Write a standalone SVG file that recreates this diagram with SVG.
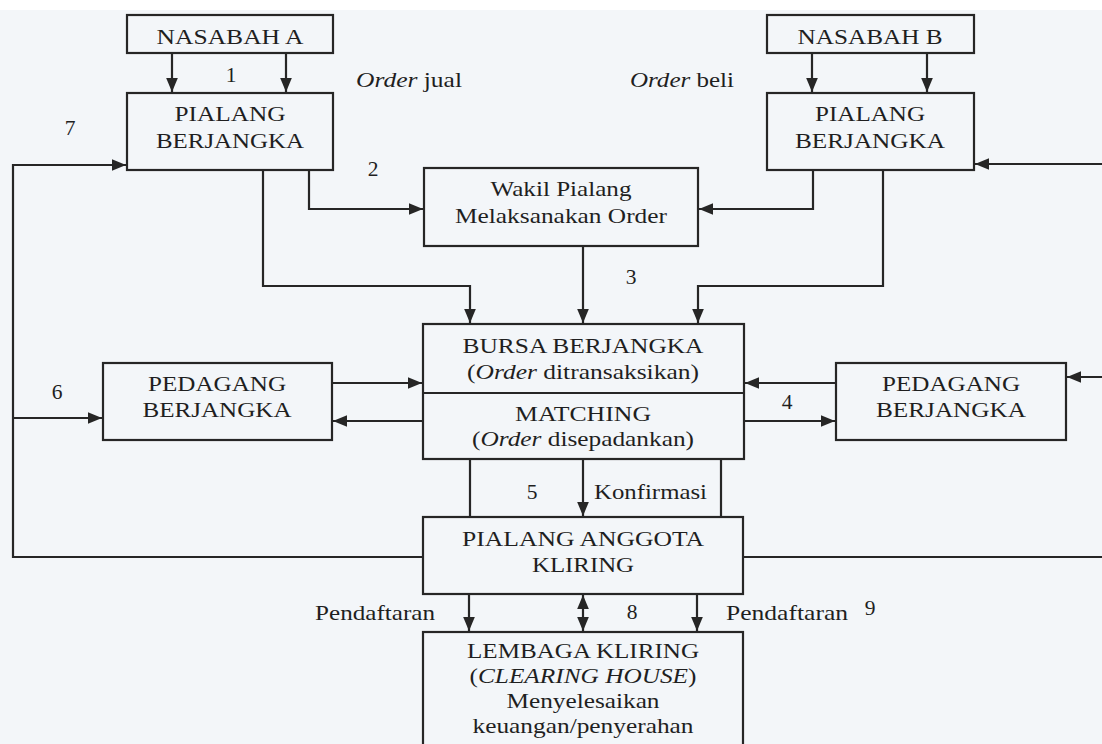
<svg xmlns="http://www.w3.org/2000/svg" width="1102" height="744" viewBox="0 0 1102 744">
<style>
.bg{fill:#f3f6f9}
.box{fill:none;stroke:#262626;stroke-width:2.2}
.t{font-family:"Liberation Serif","Times New Roman",serif;font-size:21.5px;fill:#1f1f1f}
.c{text-anchor:middle}
.i{font-style:italic}
.ln{fill:none;stroke:#262626;stroke-width:2.2}
</style>
<defs>
<marker id="ah" viewBox="0 0 12 10" markerWidth="14" markerHeight="12" refX="12" refY="5" orient="auto-start-reverse" markerUnits="userSpaceOnUse">
<path d="M0,0 L12,5 L0,10 z" fill="#262626"/>
</marker>
</defs>
<rect x="0" y="0" width="1102" height="744" fill="#ffffff"/>
<rect class="bg" x="0" y="10" width="1102" height="734"/>

<g id="connectors">
<path class="ln" d="M172,53 V92" marker-end="url(#ah)"/>
<path class="ln" d="M286,53 V92" marker-end="url(#ah)"/>
<path class="ln" d="M812,53 V92" marker-end="url(#ah)"/>
<path class="ln" d="M927,53 V92" marker-end="url(#ah)"/>
<path class="ln" d="M309,170 V209 H423" marker-end="url(#ah)"/>
<path class="ln" d="M813,170 V209 H699" marker-end="url(#ah)"/>
<path class="ln" d="M263,170 V286 H470 V323" marker-end="url(#ah)"/>
<path class="ln" d="M883,170 V286 H698 V323" marker-end="url(#ah)"/>
<path class="ln" d="M583,246 V323" marker-end="url(#ah)"/>
<path class="ln" d="M423,557 H13 V165 H126" marker-end="url(#ah)"/>
<path class="ln" d="M13,418 H102" marker-end="url(#ah)"/>
<path class="ln" d="M1102,164 H975" marker-end="url(#ah)"/>
<path class="ln" d="M1102,557 H743"/>
<path class="ln" d="M1102,377 H1067" marker-end="url(#ah)"/>
<path class="ln" d="M332,383 H422" marker-end="url(#ah)"/>
<path class="ln" d="M423,421 H333" marker-end="url(#ah)"/>
<path class="ln" d="M836,383 H745" marker-end="url(#ah)"/>
<path class="ln" d="M744,421 H835" marker-end="url(#ah)"/>
<path class="ln" d="M470,459 V517"/>
<path class="ln" d="M721,459 V517"/>
<path class="ln" d="M583,459 V516" marker-end="url(#ah)"/>
<path class="ln" d="M469,594 V631" marker-end="url(#ah)"/>
<path class="ln" d="M583,595 V631" marker-start="url(#ah)" marker-end="url(#ah)"/>
<path class="ln" d="M697,594 V631" marker-end="url(#ah)"/>
</g>

<g id="labels">
<text class="t" x="356" y="87" textLength="106" lengthAdjust="spacingAndGlyphs"><tspan class="i">Order</tspan> jual</text>
<text class="t" x="630" y="87" textLength="104" lengthAdjust="spacingAndGlyphs"><tspan class="i">Order</tspan> beli</text>
<text class="t c" x="231" y="82">1</text>
<text class="t c" x="373" y="176">2</text>
<text class="t c" x="631" y="284">3</text>
<text class="t c" x="787" y="409">4</text>
<text class="t c" x="532" y="499">5</text>
<text class="t c" x="57" y="399">6</text>
<text class="t c" x="70" y="135">7</text>
<text class="t c" x="632" y="619">8</text>
<text class="t c" x="870" y="615">9</text>
<text class="t" x="594" y="499" textLength="113" lengthAdjust="spacingAndGlyphs">Konfirmasi</text>
<text class="t" x="315" y="620" textLength="120" lengthAdjust="spacingAndGlyphs">Pendaftaran</text>
<text class="t" x="726" y="620" textLength="122" lengthAdjust="spacingAndGlyphs">Pendaftaran</text>
</g>

<g id="nasabah-a">
<rect class="box" x="127" y="15" width="206" height="38"/>
<text class="t c" x="230" y="44" textLength="147" lengthAdjust="spacingAndGlyphs">NASABAH A</text>
</g>
<g id="pialang-a">
<rect class="box" x="127" y="93" width="206" height="77"/>
<text class="t c" x="230" y="121" textLength="111" lengthAdjust="spacingAndGlyphs">PIALANG</text>
<text class="t c" x="230" y="148" textLength="148" lengthAdjust="spacingAndGlyphs">BERJANGKA</text>
</g>
<g id="nasabah-b">
<rect class="box" x="767" y="15" width="207" height="38"/>
<text class="t c" x="870" y="44" textLength="145" lengthAdjust="spacingAndGlyphs">NASABAH B</text>
</g>
<g id="pialang-b">
<rect class="box" x="767" y="93" width="207" height="77"/>
<text class="t c" x="870" y="121" textLength="110" lengthAdjust="spacingAndGlyphs">PIALANG</text>
<text class="t c" x="870" y="148" textLength="150" lengthAdjust="spacingAndGlyphs">BERJANGKA</text>
</g>
<g id="wakil">
<rect class="box" x="424" y="168" width="274" height="78"/>
<text class="t c" x="561" y="196" textLength="141" lengthAdjust="spacingAndGlyphs">Wakil Pialang</text>
<text class="t c" x="561" y="223" textLength="212" lengthAdjust="spacingAndGlyphs">Melaksanakan Order</text>
</g>
<g id="bursa">
<rect class="box" x="423" y="324" width="321" height="135"/>
<line class="ln" x1="423" y1="393" x2="744" y2="393"/>
<text class="t c" x="583" y="353" textLength="241" lengthAdjust="spacingAndGlyphs">BURSA BERJANGKA</text>
<text class="t c" x="583" y="379" textLength="232" lengthAdjust="spacingAndGlyphs">(<tspan class="i">Order</tspan> ditransaksikan)</text>
<text class="t c" x="583" y="421" textLength="136" lengthAdjust="spacingAndGlyphs">MATCHING</text>
<text class="t c" x="583" y="446" textLength="222" lengthAdjust="spacingAndGlyphs">(<tspan class="i">Order</tspan> disepadankan)</text>
</g>
<g id="pedagang-a">
<rect class="box" x="103" y="363" width="229" height="77"/>
<text class="t c" x="217" y="391" textLength="138" lengthAdjust="spacingAndGlyphs">PEDAGANG</text>
<text class="t c" x="217" y="417" textLength="149" lengthAdjust="spacingAndGlyphs">BERJANGKA</text>
</g>
<g id="pedagang-b">
<rect class="box" x="836" y="363" width="230" height="77"/>
<text class="t c" x="951" y="391" textLength="138" lengthAdjust="spacingAndGlyphs">PEDAGANG</text>
<text class="t c" x="951" y="417" textLength="150" lengthAdjust="spacingAndGlyphs">BERJANGKA</text>
</g>
<g id="pialang-anggota">
<rect class="box" x="423" y="517" width="320" height="77"/>
<text class="t c" x="583" y="546" textLength="242" lengthAdjust="spacingAndGlyphs">PIALANG ANGGOTA</text>
<text class="t c" x="583" y="572" textLength="102" lengthAdjust="spacingAndGlyphs">KLIRING</text>
</g>
<g id="lembaga">
<rect class="box" x="423" y="632" width="320" height="130"/>
<text class="t c" x="583" y="658" textLength="232" lengthAdjust="spacingAndGlyphs">LEMBAGA KLIRING</text>
<text class="t c" x="583" y="683" textLength="227" lengthAdjust="spacingAndGlyphs">(<tspan class="i">CLEARING HOUSE</tspan>)</text>
<text class="t c" x="583" y="708" textLength="153" lengthAdjust="spacingAndGlyphs">Menyelesaikan</text>
<text class="t c" x="583" y="733" textLength="221" lengthAdjust="spacingAndGlyphs">keuangan/penyerahan</text>
</g>
</svg>
